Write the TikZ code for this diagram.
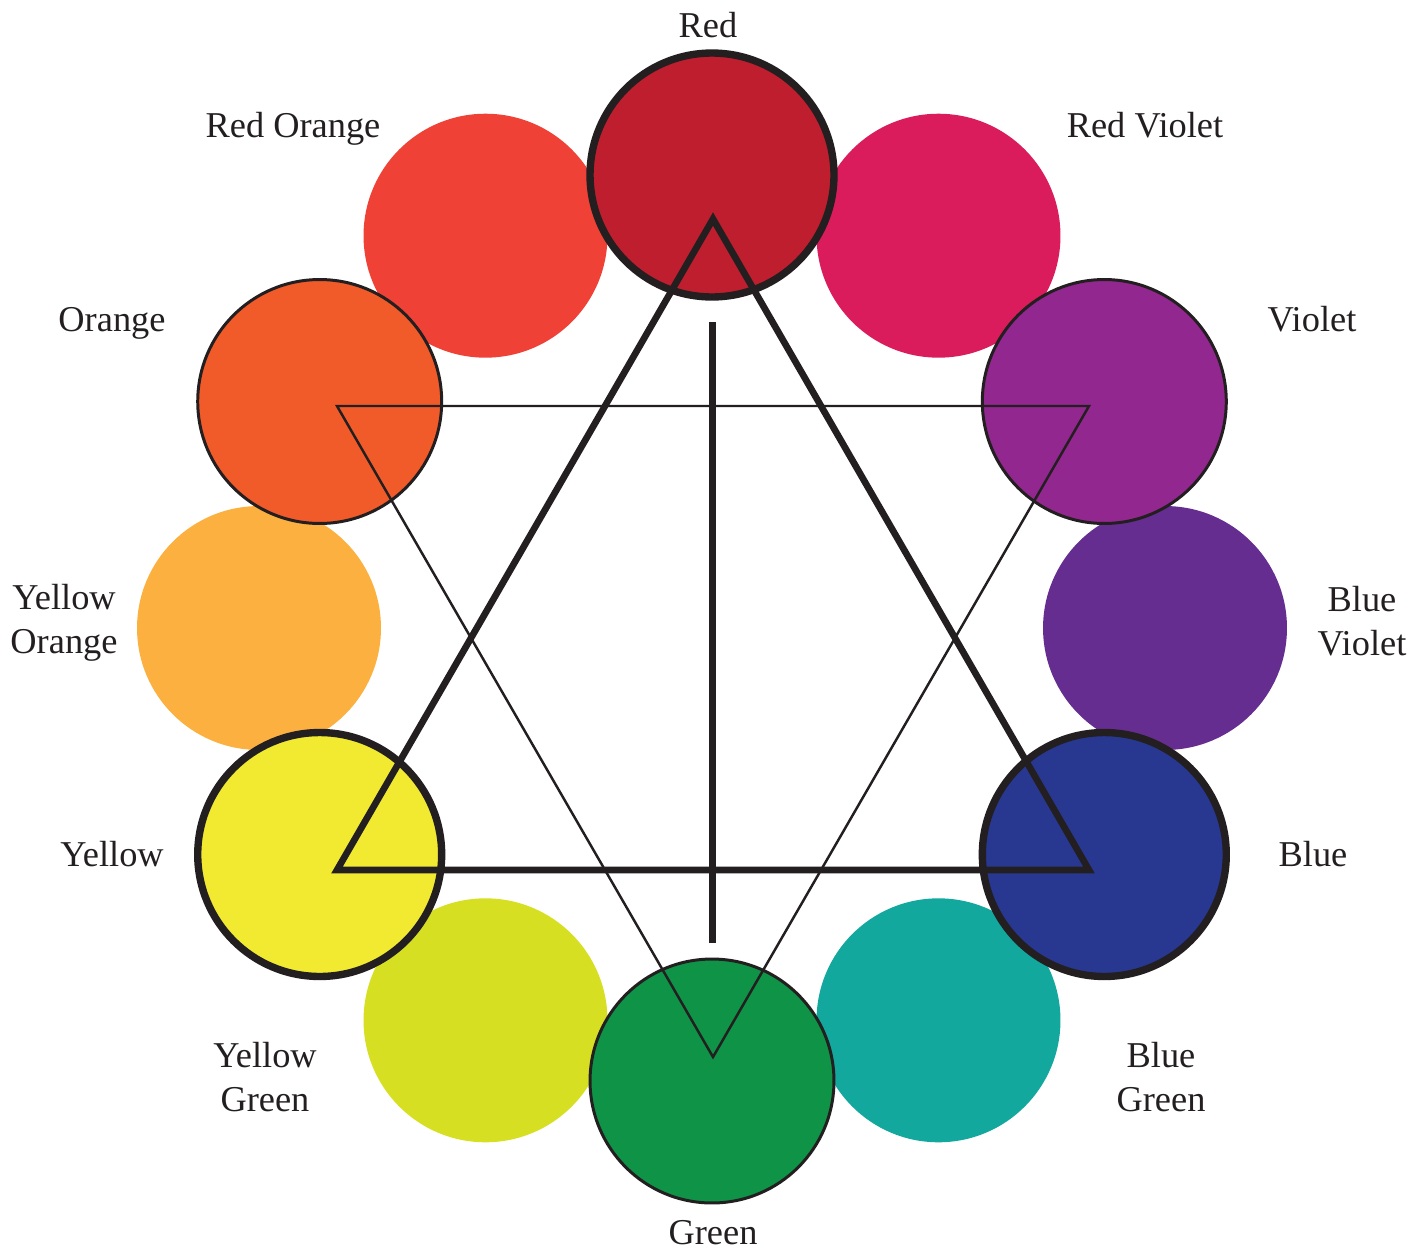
\documentclass[tikz,border=0pt]{standalone}
\usepackage{fontspec}
\setmainfont{Liberation Serif}
\definecolor{ink}{HTML}{231F20}
\definecolor{cR}{HTML}{BE1E2D}
\definecolor{cRV}{HTML}{DA1C5C}
\definecolor{cV}{HTML}{92278F}
\definecolor{cBV}{HTML}{662D91}
\definecolor{cB}{HTML}{283891}
\definecolor{cBG}{HTML}{12A89D}
\definecolor{cG}{HTML}{0E9347}
\definecolor{cYG}{HTML}{D7DF23}
\definecolor{cY}{HTML}{F2EA31}
\definecolor{cYO}{HTML}{FBB040}
\definecolor{cO}{HTML}{F15A29}
\definecolor{cRO}{HTML}{EF4136}

\begin{document}
\begin{tikzpicture}[x=.02cm,y=-.02cm,hue/.style={circle,inner sep=0pt,minimum size=4.88cm},prim/.style={hue,draw=ink,line width=4.2pt},sec/.style={hue,draw=ink,line width=1.7pt},lab/.style={font=\fontsize{20.7}{25}\selectfont,align=center,inner sep=0pt,text=ink}]
\useasboundingbox (0,0) rectangle (1426,1251);
\node[hue,fill=cRO] (ro) at (485.5,235.7) {};
\node[hue,fill=cRV] (rv) at (938.5,235.7) {};
\node[hue,fill=cBV] (bv) at (1165,628) {};
\node[hue,fill=cBG] (bg) at (938.5,1020.3) {};
\node[hue,fill=cYG] (yg) at (485.5,1020.3) {};
\node[hue,fill=cYO] (yo) at (259,628) {};
\node[sec,fill=cO] (o) at (319.7,401.5) {};
\node[sec,fill=cV] (v) at (1104.3,401.5) {};
\node[sec,fill=cG] (g) at (712,1081) {};
\node[prim,fill=cR] (r) at (712,175) {};
\node[prim,fill=cY] (y) at (319.7,854.5) {};
\node[prim,fill=cB] (b) at (1104.3,854.5) {};
\coordinate (t1) at (713,219); \coordinate (t2) at (337,870); \coordinate (t3) at (1089,870);
\coordinate (s1) at (337,406); \coordinate (s2) at (1089,406); \coordinate (s3) at (713,1057);
\coordinate (m1) at (712.5,322); \coordinate (m2) at (712.5,943);
\draw[ink,line width=1.4pt] (s1)--(s2)--(s3)--cycle;
\draw[ink,line width=3.8pt] (t1)--(t2)--(t3)--cycle;
\draw[ink,line width=3.5pt] (m1)--(m2);
\node[lab,anchor=base] (lr) at (708,37) {Red};
\node[lab,anchor=base] (lrv) at (1145,137) {Red Violet};
\node[lab,anchor=base] (lv) at (1312,331) {Violet};
\node[lab] (lbv) at (1362,621) {Blue\\Violet};
\node[lab,anchor=base] (lb) at (1313,866) {Blue};
\node[lab] (lbg) at (1161,1077) {Blue\\Green};
\node[lab,anchor=base] (lg) at (713,1244) {Green};
\node[lab] (lyg) at (265,1077) {Yellow\\Green};
\node[lab,anchor=base] (ly) at (112,866) {Yellow};
\node[lab] (lyo) at (64,623) {Yellow\\Orange};
\node[lab,anchor=base] (lo) at (112,331) {Orange};
\node[lab,anchor=base] (lro) at (293,137) {Red Orange};
\end{tikzpicture}
\end{document}
